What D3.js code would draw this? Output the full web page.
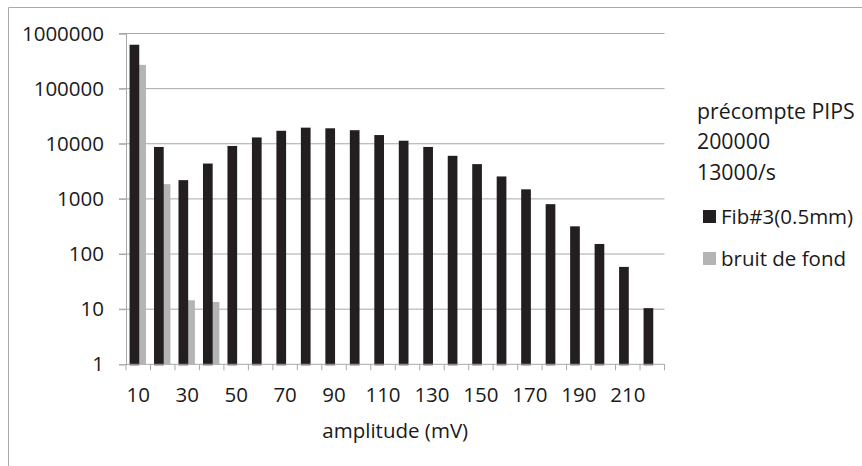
<!DOCTYPE html>
<html>
<head>
<meta charset="utf-8">
<script src="https://cdn.jsdelivr.net/npm/d3@7"></script>
<style>
  html, body { margin: 0; padding: 0; background: #fff; }
  svg { display: block; }
  text { font-family: "Open Sans", Lato, sans-serif; fill: #1a1a1a; }
</style>
</head>
<body>
<svg id="chart" width="862" height="466"></svg>
<script>
// ---- data ----
const categories = [10, 20, 30, 40, 50, 60, 70, 80, 90, 100, 110, 120, 130, 140, 150, 160, 170, 180, 190, 200, 210, 220];
const fibValues = [600000, 8400, 2100, 4200, 8750, 12500, 16500, 18800, 18300, 16900, 13800, 10900, 8400, 5800, 4100, 2450, 1430, 770, 305, 146, 56, 10];
const bruitValues = [270000, 1850, 14.5, 13.5, null, null, null, null, null, null, null, null, null, null, null, null, null, null, null, null, null, null];
const seriesNames = ["Fib#3(0.5mm)", "bruit de fond"];
const yTickValues = [1, 10, 100, 1000, 10000, 100000, 1000000];
const xTickLabels = [10, 30, 50, 70, 90, 110, 130, 150, 170, 190, 210];
const noteLines = ["précompte PIPS", "200000", "13000/s"];
const xTitle = "amplitude (mV)";

// ---- layout ----
const FONT = "'Open Sans', Lato, sans-serif";
const FS = 20.5;
const svg = d3.select("#chart");
const plot = { left: 126, right: 664.5, top: 33.5, bottom: 364.3 };
const colors = { "Fib#3(0.5mm)": "#231f20", "bruit de fond": "#b4b4b4" };
const gridColor = "#a8a8a8";

// chart frame (only top and left edges visible in the reference)
svg.append("path")
  .attr("d", "M8.5,466 L8.5,7.5 L862,7.5")
  .attr("fill", "none").attr("stroke", "#aaaaaa").attr("stroke-width", 1);

const x0 = d3.scaleBand().domain(categories).range([plot.left, plot.right]).paddingInner(0).paddingOuter(0);
const x1 = d3.scaleBand().domain(seriesNames).range([0, x0.bandwidth()]).paddingInner(0).paddingOuter(0.59);
const y = d3.scaleLog().domain([1, 1000000]).range([plot.bottom, plot.top]);

// gridlines
svg.append("g").selectAll("line").data(yTickValues.slice(1)).join("line")
  .attr("x1", plot.left - 7).attr("x2", plot.right)
  .attr("y1", d => y(d)).attr("y2", d => y(d))
  .attr("stroke", gridColor).attr("stroke-width", 1);

// y axis
const yAxis = d3.axisLeft(y).tickValues(yTickValues).tickFormat(d3.format("d")).tickSize(7).tickPadding(15);
const gy = svg.append("g").attr("transform", `translate(${plot.left},0)`).call(yAxis);
gy.select(".domain").attr("stroke", gridColor);
gy.selectAll(".tick line").attr("stroke", gridColor);
gy.selectAll(".tick text").attr("font-size", FS).attr("font-family", FONT).attr("fill", "#1a1a1a");

// bars: bruit de fond first, then Fib on top
const series = [
  { name: seriesNames[1], values: bruitValues, stroke: 0 },
  { name: seriesNames[0], values: fibValues, stroke: 2 }
];
series.forEach(s => {
  svg.append("g").selectAll("rect")
    .data(categories.map((c, i) => ({ c, v: s.values[i] })).filter(d => d.v != null))
    .join("rect")
    .attr("x", d => x0(d.c) + x1(s.name))
    .attr("width", x1.bandwidth())
    .attr("y", d => y(d.v))
    .attr("height", d => y(1) - y(d.v))
    .attr("fill", colors[s.name])
    .attr("stroke", s.stroke ? colors[s.name] : "none")
    .attr("stroke-width", s.stroke);
});

// x axis (ticks at category boundaries)
const boundaries = categories.map(c => x0(c)).concat([plot.right]);
const gx = svg.append("g");
gx.append("line").attr("x1", plot.left).attr("x2", plot.right)
  .attr("y1", plot.bottom).attr("y2", plot.bottom).attr("stroke", gridColor);
gx.selectAll("line.tk").data(boundaries).join("line").attr("class", "tk")
  .attr("x1", d => d).attr("x2", d => d)
  .attr("y1", plot.bottom).attr("y2", plot.bottom + 6).attr("stroke", gridColor);
gx.selectAll("text").data(xTickLabels).join("text")
  .attr("x", d => x0(d) + x0.bandwidth() / 2)
  .attr("y", 401.5)
  .attr("text-anchor", "middle")
  .attr("font-size", FS)
  .text(d => d);

// x title
svg.append("text")
  .attr("x", (plot.left + plot.right) / 2)
  .attr("y", 438)
  .attr("text-anchor", "middle")
  .attr("font-size", FS)
  .text(xTitle);

// note text
svg.append("g").selectAll("text").data(noteLines).join("text")
  .attr("x", 697)
  .attr("y", (d, i) => 118.5 + i * 30.5)
  .attr("font-size", 21.3)
  .text(d => d);

// legend
const legend = svg.append("g").selectAll("g").data(seriesNames).join("g")
  .attr("transform", (d, i) => `translate(703,${210 + i * 42})`);
legend.append("rect").attr("width", 13).attr("height", 13).attr("fill", d => colors[d]);
legend.append("text").attr("x", 18).attr("y", 13.5).attr("font-size", FS).text(d => d);
</script>
</body>
</html>
